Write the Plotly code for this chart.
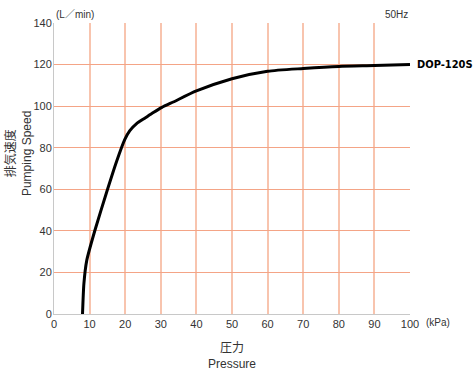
import plotly.graph_objects as go

pressure = [8.0, 8.4, 9.2, 11.5, 14.8, 17.6, 19.9, 21.3, 23.2, 25.6, 27.9, 30.3, 33.5, 40, 50, 60, 70, 80, 90, 100]
speed = [-0.5, 14.6, 25.8, 40.3, 58.7, 73.5, 84.0, 88.2, 91.6, 94.3, 96.9, 99.4, 102.0, 107.3, 113.2, 116.8, 118.1, 119.1, 119.5, 120.0]
x_ticks = [0, 10, 20, 30, 40, 50, 60, 70, 80, 90, 100]
y_ticks = [0, 20, 40, 60, 80, 100, 120, 140]
series_name = "DOP-120S"

font_main = "Liberation Sans, Arial, Noto Sans CJK JP, sans-serif"

fig = go.Figure()
fig.add_trace(go.Scatter(x=pressure, y=speed, mode="lines",
                         line=dict(color="black", width=3, shape="spline", smoothing=0.6),
                         showlegend=False, cliponaxis=False))

fig.update_layout(
    width=476, height=370,
    margin=dict(l=54, r=66, t=23, b=56),
    plot_bgcolor="white", paper_bgcolor="white",
    font=dict(family=font_main, size=11, color="#333333"),
    xaxis=dict(range=[0, 100], tickvals=x_ticks, showgrid=True, gridcolor="#f8c4ae", gridwidth=2,
               zeroline=False, showline=True, linecolor="#c8c8c8", linewidth=1,
               ticks="", ticklen=0, tickfont=dict(size=11, color="#333333"), fixedrange=True),
    yaxis=dict(range=[0, 140], tickvals=y_ticks, showgrid=True, gridcolor="#f4a486", gridwidth=1,
               zeroline=False, showline=True, linecolor="#c8c8c8", linewidth=1,
               ticks="", ticklen=0, ticklabelstandoff=-1,
               tickfont=dict(size=11, color="#333333"), fixedrange=True),
    annotations=[
        dict(text="(L／min)", xref="paper", yref="paper", x=0.0, y=1.0, xanchor="left", yanchor="bottom",
             showarrow=False, font=dict(size=10, color="#333333"), yshift=1),
        dict(text="50Hz", xref="paper", yref="paper", x=1.0, y=1.0, xanchor="right", yanchor="bottom",
             showarrow=False, font=dict(size=10, color="#333333"), yshift=1),
        dict(text="(kPa)", xref="paper", yref="paper", x=1.0, y=0.0, xanchor="left", yanchor="top",
             showarrow=False, font=dict(size=10, color="#333333"), xshift=14, yshift=-1),
        dict(text=series_name, xref="paper", yref="y", x=1.0, y=speed[-1], xanchor="left", yanchor="middle",
             showarrow=False,
             font=dict(family="DejaVu Sans Condensed, Liberation Sans Narrow, DejaVu Sans, sans-serif",
                       size=11, color="black", weight="bold"),
             xshift=5),
        dict(text="排気速度<br>Pumping Speed", xref="paper", yref="paper", x=-0.098, y=0.55,
             xanchor="center", yanchor="middle", textangle=-90, showarrow=False,
             font=dict(size=12, color="#333333")),
        dict(text="圧力<br>Pressure", xref="paper", yref="paper", x=0.5, y=-0.145,
             xanchor="center", yanchor="middle", showarrow=False,
             font=dict(size=12, color="#333333")),
    ],
)

fig.write_html("out.html")
